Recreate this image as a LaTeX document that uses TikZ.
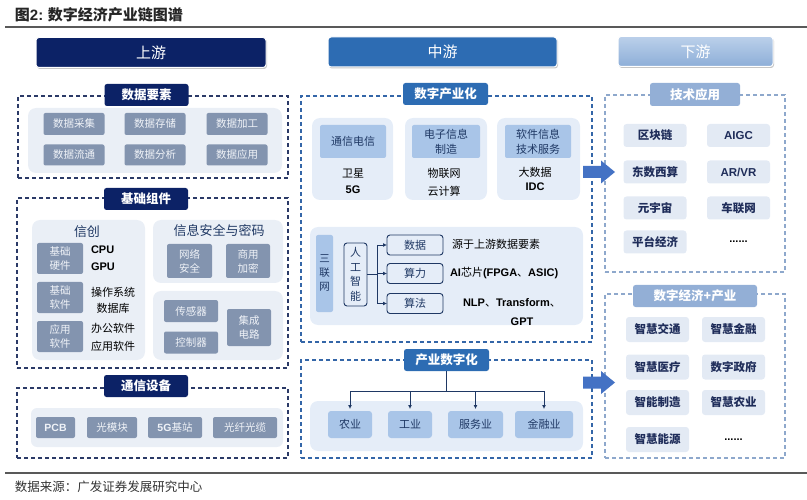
\documentclass[tikz,border=0pt]{standalone}
\usepackage{fontspec}
\setmainfont{Noto Sans CJK SC}
\newfontfamily\lat{Liberation Sans}
\usetikzlibrary{shadows,arrows.meta}
\newcommand\lb[1]{{\lat\bfseries #1}}
\definecolor{navy}{HTML}{0C2266}
\definecolor{midblue}{HTML}{2D6CB3}
\definecolor{lightbarT}{HTML}{BBD0EA}
\definecolor{lightbarB}{HTML}{8DAED8}
\definecolor{itemG}{HTML}{8394AF}
\definecolor{itemT}{HTML}{F0F3F8}
\definecolor{panelL}{HTML}{EAEFF6}
\definecolor{midHead}{HTML}{A9C5E8}
\definecolor{midPan}{HTML}{E5EDF8}
\definecolor{rItem}{HTML}{E3EAF4}
\definecolor{rText}{HTML}{1F2D5A}
\definecolor{rTag}{HTML}{93AFD6}
\definecolor{dashL}{HTML}{2B3A67}
\definecolor{dashM}{HTML}{3466A8}
\definecolor{dashR}{HTML}{8EA8CC}
\definecolor{arrowC}{HTML}{4472C4}
\definecolor{darkT}{HTML}{1F3864}
\begin{document}
\begin{tikzpicture}[x=1pt,y=-1pt,
  every node/.style={inner sep=0pt, outer sep=0pt},
  hdr/.style={rounded corners=3pt, minimum height=30pt, text=white, font=\fontsize{15}{15}\selectfont, draw=white, line width=1pt, drop shadow={shadow xshift=1pt, shadow yshift=-1.5pt, fill=black!50, opacity=0.45}},
  tag/.style={rounded corners=2.5pt, minimum height=22pt, text=white, font=\fontsize{12.5}{13}\selectfont\bfseries},
  dbox/.style={dash pattern=on 4pt off 3pt, line width=1.1pt},
  pan/.style={rounded corners=8pt, fill=panelL},
  mpan/.style={rounded corners=8pt, fill=midPan},
  gitem/.style={rounded corners=2pt, fill=itemG, text=itemT, font=\fontsize{10.5}{14}\selectfont, align=center},
  btxt/.style={text=black, font=\fontsize{11}{11}\selectfont},
  mhead/.style={rounded corners=2pt, fill=midHead, text=darkT, font=\fontsize{11}{15}\selectfont, align=center},
  aibox/.style={rounded corners=3pt, draw=darkT, line width=0.9pt, fill=midPan, text=darkT, font=\fontsize{11}{14.5}\selectfont, align=center},
  mitem/.style={rounded corners=3pt, fill=midHead, text=darkT, font=\fontsize{11}{11}\selectfont, minimum height=27pt},
  ritem/.style={rounded corners=3pt, fill=rItem, text=rText, font=\fontsize{11.5}{12}\selectfont\bfseries, minimum width=63pt},
  conn/.style={draw=darkT, line width=0.9pt},
  arr/.style={conn, -{Latex[length=4pt,width=4pt]}}
]
\useasboundingbox (0,0) rectangle (807,500);
% title and rules
\node[anchor=west, font=\fontsize{15}{15}\selectfont\bfseries, text=black!85] (title) at (15,15) {图\lb{2:} 数字经济产业链图谱};
\draw[black!65, line width=1.2pt] (5,27) -- (807,27);
\draw[black!65, line width=1.2pt] (5,473) -- (807,473);
\node[anchor=west, font=\fontsize{12.5}{13}\selectfont, text=black!80] (src) at (15,487) {数据来源：广发证券发展研究中心};

% headers
\node[hdr, fill=navy, minimum width=230pt] (up) at (151,52.5) {上游};
\node[hdr, fill=midblue, minimum width=229pt] (mid) at (442.5,52) {中游};
\node[hdr, top color=lightbarT, bottom color=lightbarB, minimum width=155pt] (down) at (695.5,51.5) {下游};

% ===== left column =====
\node[dbox, draw=dashL, minimum width=270pt, minimum height=82pt] (D1) at (153,137) {};
\node[dbox, draw=dashL, minimum width=271pt, minimum height=170pt] (D2) at (152.5,283) {};
\node[dbox, draw=dashL, minimum width=271pt, minimum height=70pt] (D3) at (152.5,423) {};
\node[pan, minimum width=254pt, minimum height=65pt] (P1) at (155,140.5) {};
\node[pan, minimum width=113pt, minimum height=140pt] (P2a) at (88.5,290) {};
\node[pan, minimum width=130pt, minimum height=63pt] (P2b) at (218,251.5) {};
\node[pan, minimum width=130pt, minimum height=69pt] (P2c) at (218,325.5) {};
\node[pan, rounded corners=6pt, minimum width=252pt, minimum height=39pt] (P3) at (157,427.5) {};
\node[tag, fill=navy, minimum width=84pt] (T1) at (146.5,95) {数据要素};
\node[tag, fill=navy, minimum width=84pt] (T2) at (146,199) {基础组件};
\node[tag, fill=navy, minimum width=84pt] (T3) at (146,386) {通信设备};

\node[gitem, minimum width=61pt, minimum height=22pt] (a1) at (74,124) {数据采集};
\node[gitem, minimum width=61pt, minimum height=22pt] (a2) at (155,124) {数据存储};
\node[gitem, minimum width=61pt, minimum height=22pt] (a3) at (237,124) {数据加工};
\node[gitem, minimum width=61pt, minimum height=21pt] (a4) at (74,155) {数据流通};
\node[gitem, minimum width=61pt, minimum height=21pt] (a5) at (155,155) {数据分析};
\node[gitem, minimum width=61pt, minimum height=21pt] (a6) at (237,155) {数据应用};

\node[text=darkT, font=\fontsize{13}{13}\selectfont] (xc) at (87,232) {信创};
\node[gitem, minimum width=46pt, minimum height=31pt] (b1) at (60,258.5) {基础\\硬件};
\node[gitem, minimum width=46pt, minimum height=31pt] (b2) at (60,297.5) {基础\\软件};
\node[gitem, minimum width=46pt, minimum height=31pt] (b3) at (60,336.5) {应用\\软件};
\node[btxt, anchor=west] (cpu) at (91,250) {\lb{CPU}};
\node[btxt, anchor=west] (gpu) at (91,267) {\lb{GPU}};
\node[btxt] (os) at (113,292) {操作系统};
\node[btxt] (db) at (113,308) {数据库};
\node[btxt] (of) at (113,328) {办公软件};
\node[btxt] (ap) at (113,346) {应用软件};

\node[text=darkT, font=\fontsize{13}{13}\selectfont] (sec) at (219,231) {信息安全与密码};
\node[gitem, minimum width=45pt, minimum height=34pt] (c1) at (189.5,261) {网络\\安全};
\node[gitem, minimum width=44pt, minimum height=34pt] (c2) at (248,261) {商用\\加密};
\node[gitem, minimum width=54pt, minimum height=22pt] (c3) at (191,311) {传感器};
\node[gitem, minimum width=54pt, minimum height=22pt] (c4) at (191,342.5) {控制器};
\node[gitem, minimum width=44pt, minimum height=37pt] (c5) at (249,327.5) {集成\\电路};

\node[gitem, minimum width=39pt, minimum height=21pt] (e1) at (55.5,427.5) {\lb{PCB}};
\node[gitem, minimum width=50pt, minimum height=21pt] (e2) at (112,427.5) {光模块};
\node[gitem, minimum width=54pt, minimum height=21pt] (e3) at (175,427.5) {\lb{5G}基站};
\node[gitem, minimum width=64pt, minimum height=21pt] (e4) at (245,427.5) {光纤光缆};

% ===== middle column =====
\node[dbox, draw=dashM, minimum width=291pt, minimum height=246pt] (M1) at (446.5,219) {};
\node[dbox, draw=dashM, minimum width=291pt, minimum height=98pt] (M2) at (446.5,409) {};
\node[mpan, minimum width=81pt, minimum height=82pt] (MP1) at (352.5,159) {};
\node[mpan, minimum width=82pt, minimum height=82pt] (MP2) at (446,159) {};
\node[mpan, minimum width=83pt, minimum height=82pt] (MP3) at (538.5,159) {};
\node[mpan, minimum width=273pt, minimum height=98pt] (MAI) at (446.5,276) {};
\node[mpan, minimum width=273pt, minimum height=50pt] (MP4) at (446.5,426) {};
\node[tag, fill=midblue, minimum width=85pt] (T4) at (445.5,94) {数字产业化};
\node[tag, fill=midblue, minimum width=85pt] (T5) at (446.5,360) {产业数字化};

\node[mhead, minimum width=66pt, minimum height=33pt] (h1) at (353,141.5) {通信电信};
\node[mhead, minimum width=68pt, minimum height=33pt] (h2) at (446,141.5) {电子信息\\制造};
\node[mhead, minimum width=66pt, minimum height=33pt] (h3) at (538,141.5) {软件信息\\技术服务};
\node[btxt] (w1) at (353,173) {卫星};
\node[btxt] (w2) at (353,190) {\lb{5G}};
\node[btxt] (w3) at (444,173) {物联网};
\node[btxt] (w4) at (444,191) {云计算};
\node[btxt] (w5) at (535,172) {大数据};
\node[btxt] (w6) at (535,187) {\lb{IDC}};

\node[mhead, minimum width=17pt, minimum height=77pt, font=\fontsize{10.5}{14}\selectfont] (slw) at (324.5,273.5) {三\\联\\网};
\node[aibox, minimum width=23pt, minimum height=63pt] (ai) at (355.5,274.5) {人\\工\\智\\能};
\node[aibox, minimum width=56pt, minimum height=20pt] (s1) at (415,245) {数据};
\node[aibox, minimum width=56pt, minimum height=20pt] (s2) at (415,273.5) {算力};
\node[aibox, minimum width=56pt, minimum height=20pt] (s3) at (415,303.5) {算法};
\coordinate (br) at (377,274.5);
\draw[conn] (ai.east) -- (br);
\draw[conn] (br |- s1.west) -- (br |- s3.west);
\draw[arr] (br |- s1.west) -- (s1.west);
\draw[arr] (br |- s2.west) -- (s2.west);
\draw[arr] (br |- s3.west) -- (s3.west);
\node[btxt, anchor=west] (t1) at (452,244) {源于上游数据要素};
\node[btxt, anchor=west] (t2) at (450,273.5) {\lb{AI}芯片\lb{(FPGA}、\lb{ASIC)}};
\node[btxt, anchor=west] (t3) at (463,303) {\lb{NLP}、\lb{Transform}、};
\node[btxt] (t4) at (522,322) {\lb{GPT}};

\node[mitem, minimum width=44pt] (f1) at (350,424.5) {农业};
\node[mitem, minimum width=44pt] (f2) at (410,424.5) {工业};
\node[mitem, minimum width=55pt] (f3) at (475.5,424.5) {服务业};
\node[mitem, minimum width=58pt] (f4) at (544,424.5) {金融业};
\coordinate (jn) at (446.5,391);
\draw[conn] (T5.south) -- (jn);
\draw[conn] (f1.north |- jn) -- (f4.north |- jn);
\foreach \k in {f1,f2,f3,f4} \draw[arr, shorten >=2pt] (\k.north |- jn) -- (\k.north);

% ===== right column =====
\node[dbox, draw=dashR, minimum width=180pt, minimum height=177pt] (R1) at (695,183.5) {};
\node[dbox, draw=dashR, minimum width=180pt, minimum height=164pt] (R2) at (695,376) {};
\node[tag, fill=rTag, minimum width=90pt, minimum height=23pt] (T6) at (695,94.5) {技术应用};
\node[tag, fill=rTag, minimum width=124pt] (T7) at (695,296) {数字经济+产业};

\node[ritem, minimum height=23pt] (r1) at (655,135.5) {区块链};
\node[ritem, minimum height=23pt] (r2) at (738.5,135.5) {\lb{AIGC}};
\node[ritem, minimum height=23pt] (r3) at (655,172) {东数西算};
\node[ritem, minimum height=23pt] (r4) at (738.5,172) {\lb{AR/VR}};
\node[ritem, minimum height=23pt] (r5) at (655,208) {元宇宙};
\node[ritem, minimum height=23pt] (r6) at (738.5,208) {车联网};
\node[ritem, minimum height=23pt] (r7) at (655,242) {平台经济};
\node[btxt] (r8) at (738.5,242) {\lb{......}};

\node[ritem, minimum height=25pt] (q1) at (657.5,329.5) {智慧交通};
\node[ritem, minimum height=25pt] (q2) at (733.5,329.5) {智慧金融};
\node[ritem, minimum height=25pt] (q3) at (657.5,367) {智慧医疗};
\node[ritem, minimum height=25pt] (q4) at (733.5,367) {数字政府};
\node[ritem, minimum height=25pt] (q5) at (657.5,402.5) {智能制造};
\node[ritem, minimum height=25pt] (q6) at (733.5,402.5) {智慧农业};
\node[ritem, minimum height=25pt] (q7) at (657.5,439.5) {智慧能源};
\node[btxt] (q8) at (733.5,439.5) {\lb{......}};

% block arrows from middle to right column (drawn on top)
\fill[arrowC] (583,166) -- (601,166) -- (601,160.5) -- (615,172) -- (601,183.5) -- (601,178) -- (583,178) -- cycle;
\fill[arrowC] (583,376.5) -- (601,376.5) -- (601,371) -- (615,382.5) -- (601,394) -- (601,388.5) -- (583,388.5) -- cycle;
\end{tikzpicture}
\end{document}
